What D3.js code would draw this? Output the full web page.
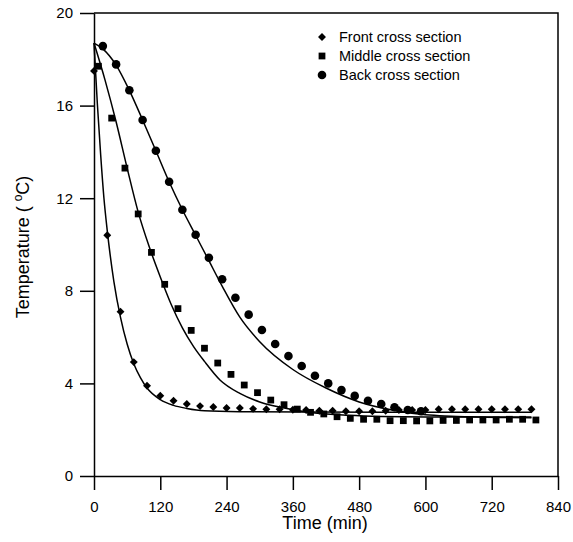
<!DOCTYPE html>
<head>
   <meta charset="utf-8">
   <script src="https://d3js.org/d3.v7.min.js"></script>
   <style>
   body{ margin: 0; background: #fff; }
   text{
      font-family: "Liberation Sans", Arial, sans-serif;
      fill: #000;
   }
   .tick text{ font-size: 15px; }
   .axis path, .axis line{ stroke: #000; stroke-width: 1.5; }
   text.axisTitle{ font-size: 18px; }
   text.legend{ font-size: 14.5px; }
   </style>
</head>
<body>
<script>
const width = 573;
const height = 542;

// measured points (time in min, temperature in degC)
const frontTime  = [0,24,48,72,96,120,144,168,192,216,240,264,288,312,336,360,384,408,432,456,480,504,528,552,576,600,624,648,672,696,720,744,768,792];
const frontTemp  = [17.5,10.4,7.1,4.92,3.9,3.47,3.25,3.11,3.02,2.98,2.94,2.94,2.9,2.88,2.88,2.86,2.85,2.82,2.82,2.8,2.8,2.8,2.82,2.85,2.85,2.85,2.88,2.88,2.88,2.88,2.88,2.88,2.88,2.88];

const middleTime = [8,32,56,80,104,128,152,176,200,224,248,272,296,320,344,368,392,416,440,464,488,512,536,560,584,608,632,656,680,704,728,752,776,800];
const middleTemp = [17.7,15.46,13.3,11.32,9.66,8.28,7.23,6.29,5.52,4.88,4.39,3.93,3.6,3.28,3.08,2.89,2.75,2.68,2.56,2.49,2.45,2.45,2.39,2.39,2.38,2.38,2.4,2.4,2.42,2.42,2.42,2.45,2.45,2.42];

const backTime   = [16,40,64,88,112,136,160,184,208,232,256,280,304,328,352,376,400,424,448,472,496,520,544,568,592];
const backTemp   = [18.57,17.78,16.66,15.38,14.05,12.71,11.5,10.42,9.43,8.5,7.7,6.97,6.31,5.7,5.18,4.75,4.33,4.0,3.71,3.46,3.25,3.11,2.97,2.85,2.8];

// fitted curves
const frontFitTime  = [0,6,12,18,24,36,48,60,72,84,96,120,144,168,200,264,400,600,792];
const frontFitTemp  = [18.7,16.1,13.9,12.0,10.6,8.4,6.85,5.7,4.85,4.25,3.8,3.3,3.05,2.92,2.82,2.78,2.76,2.75,2.75];

const middleFitTime = [0,20,40,60,80,100,120,140,160,180,200,228,264,300,342,400,460,520,600,792];
const middleFitTemp = [18.7,17.1,15.3,13.3,11.4,9.9,8.6,7.4,6.4,5.6,4.95,4.15,3.57,3.2,2.95,2.72,2.62,2.57,2.55,2.55];

const backFitTime   = [0,16,40,64,88,112,136,160,184,208,232,264,300,360,420,480,540,600,700,792];
const backFitTemp   = [18.7,18.45,17.75,16.66,15.38,14.05,12.71,11.5,10.4,9.3,8.2,6.86,5.8,4.6,3.8,3.2,2.85,2.65,2.55,2.52];

const xTicks = [0,120,240,360,480,600,720,840];
const yTicks = [0,4,8,12,16,20];
const legendNames = ["Front cross section", "Middle cross section", "Back cross section"];

const svg = d3.select("body").append("svg")
   .attr("width", width)
   .attr("height", height);

const x = d3.scaleLinear().domain([0, 840]).range([94, 558]);
const y = d3.scaleLinear().domain([0, 20]).range([476, 13]);

// frame
svg.append("path")
   .attr("d", `M${x(0)},${y(20)}H${x(840)}V${y(0)}`)
   .attr("fill", "none")
   .attr("stroke", "#000")
   .attr("stroke-width", 1.5);

svg.append("g")
   .attr("class", "axis")
   .attr("transform", `translate(0,${y(0)})`)
   .call(d3.axisBottom(x).tickValues(xTicks).tickSize(14).tickSizeOuter(0).tickPadding(11));

svg.append("g")
   .attr("class", "axis")
   .attr("transform", `translate(${x(0)},0)`)
   .call(d3.axisLeft(y).tickValues(yTicks).tickSize(14).tickSizeOuter(0).tickPadding(7));

// fitted lines
const line = d3.line()
   .x(d => x(d[0]))
   .y(d => y(d[1]))
   .curve(d3.curveMonotoneX);

[[frontFitTime, frontFitTemp], [middleFitTime, middleFitTemp], [backFitTime, backFitTemp]].forEach(s => {
   svg.append("path")
      .datum(d3.zip(s[0], s[1]))
      .attr("d", line)
      .attr("fill", "none")
      .attr("stroke", "#000")
      .attr("stroke-width", 1.5);
});

// markers
const diamond = d3.symbol().type(d3.symbolDiamond2).size(40);
const square  = d3.symbol().type(d3.symbolSquare).size(46);
const circle  = d3.symbol().type(d3.symbolCircle).size(58);

svg.append("g").selectAll("path")
   .data(d3.zip(frontTime, frontTemp))
   .join("path")
   .attr("transform", d => `translate(${x(d[0])},${y(d[1])})`)
   .attr("d", diamond);

svg.append("g").selectAll("path")
   .data(d3.zip(middleTime, middleTemp))
   .join("path")
   .attr("transform", d => `translate(${x(d[0])},${y(d[1])})`)
   .attr("d", square);

svg.append("g").selectAll("path")
   .data(d3.zip(backTime, backTemp))
   .join("path")
   .attr("transform", d => `translate(${x(d[0])},${y(d[1])})`)
   .attr("d", circle);

// legend
const legend = svg.append("g").attr("transform", "translate(322,37)");
[diamond, square, circle].forEach((sym, i) => {
   legend.append("path")
      .attr("transform", `translate(0,${i*19})`)
      .attr("d", sym);
   legend.append("text")
      .attr("class", "legend")
      .attr("x", 17)
      .attr("y", i*19 + 5)
      .text(legendNames[i]);
});

// axis titles
svg.append("text")
   .attr("class", "axisTitle")
   .attr("x", 325)
   .attr("y", 529)
   .attr("text-anchor", "middle")
   .text("Time (min)");

const yTitle = svg.append("text")
   .attr("class", "axisTitle")
   .attr("transform", "translate(29,247) rotate(-90)")
   .attr("text-anchor", "middle");
yTitle.append("tspan").text("Temperature ( ");
yTitle.append("tspan").attr("dy", -7).attr("font-size", 12).text("o");
yTitle.append("tspan").attr("dy", 7).text("C)");
</script>
</body>
